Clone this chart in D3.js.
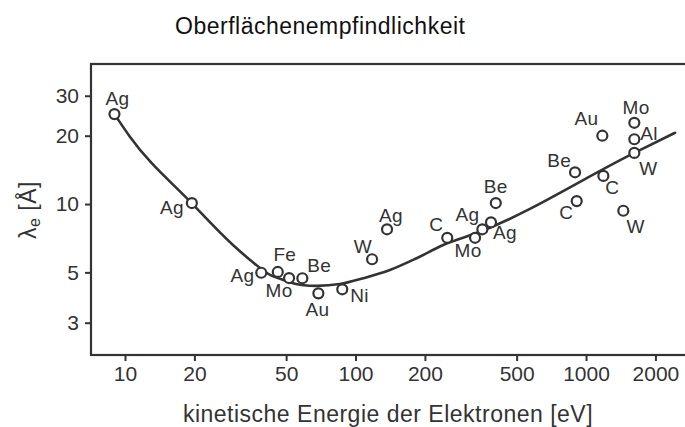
<!DOCTYPE html>
<html>
<head>
<meta charset="utf-8">
<script src="https://cdn.jsdelivr.net/npm/d3@7"></script>
<style>
  body { margin: 0; background: #fff; }
  svg { display: block; }
  text { font-family: "Liberation Sans", Arial, Helvetica, sans-serif; }
</style>
</head>
<body>
<svg id="chart" width="685" height="427"></svg>
<script>
// Measured inelastic mean free path of electrons for several elements
const elements = ["Ag","Ag","Ag","Fe","Mo","Be","Au","Ni","W","Ag","C","Mo","Ag","Ag","Be","C","Be","C","Au","W","Al","Mo","W"];
const energies = [9, 19.5, 39, 46, 51.5, 58.8, 69, 87.6, 118, 137, 250, 330, 355, 387, 406, 911, 896, 1189, 1177, 1620, 1620, 1620, 1451];
const lambdas  = [24.9, 10.1, 4.98, 5.02, 4.72, 4.71, 4.04, 4.21, 5.71, 7.74, 7.10, 7.10, 7.74, 8.31, 10.1, 10.3, 13.8, 13.3, 20.0, 16.8, 19.3, 22.8, 9.34];

// Universal curve through the measurements
const curveEnergies = [9, 10.5, 19.5, 29.4, 34.9, 42.6, 48.6, 58.4, 67.9, 85.6, 108, 141, 184, 240, 347, 1620, 2433];
const curveLambdas  = [24.9, 19.8, 10.07, 6.60, 5.67, 4.87, 4.63, 4.40, 4.36, 4.44, 4.71, 5.12, 5.77, 6.60, 7.55, 16.8, 20.6];

const xTickValues = [10, 20, 50, 100, 200, 500, 1000, 2000];
const yTickValues = [3, 5, 10, 20, 30];

// Where each element label sits relative to its marker: [anchor, dx, dy]
const labelPlacement = [
  ["middle", 3, -9], ["end", -8, 10.5], ["end", -7, 9], ["middle", 7, -11],
  ["middle", -10, 19], ["start", 5, -6.6], ["middle", -1, 23], ["start", 8, 13],
  ["end", 0, -6], ["middle", 4, -7], ["end", -4, -6.7], ["middle", -7, 19],
  ["end", -3, -8], ["start", 2, 17], ["middle", 0, -10], ["end", -3.4, 18],
  ["end", -4, -5], ["start", 2, 17.6], ["end", -4, -10.7], ["start", 5, 22],
  ["start", 6, 0.7], ["middle", 1.7, -8.4], ["start", 3.3, 22.6]
];

const ink = "#333";
const svg = d3.select("#chart");

const plot = { left: 91, top: 64, right: 690, bottom: 355 };

const x = d3.scaleLog().domain([7.12, 2825]).range([plot.left, plot.right]);
const y = d3.scaleLog().domain([2.162, 41.4]).range([plot.bottom, plot.top]);

// Title
svg.append("text")
  .attr("x", 175).attr("y", 34)
  .attr("font-size", 23).attr("letter-spacing", 0.5)
  .attr("fill", "#111")
  .text("Oberflächenempfindlichkeit");

// Frame
svg.append("rect")
  .attr("x", plot.left).attr("y", plot.top)
  .attr("width", plot.right - plot.left).attr("height", plot.bottom - plot.top)
  .attr("fill", "none").attr("stroke", ink).attr("stroke-width", 2.2);

// X axis
const xAxis = d3.axisBottom(x).tickValues(xTickValues).tickFormat(d3.format("d"))
  .tickSize(6).tickPadding(5);
const gx = svg.append("g").attr("transform", `translate(0,${plot.bottom})`).call(xAxis);
gx.select(".domain").remove();
gx.selectAll(".tick line").attr("stroke", ink).attr("stroke-width", 2);
gx.selectAll(".tick text").attr("fill", ink).attr("font-size", 21)
  .attr("font-family", "Liberation Sans, Arial, sans-serif");

// Y axis
const yAxis = d3.axisLeft(y).tickValues(yTickValues).tickFormat(d3.format("d"))
  .tickSize(6).tickPadding(6);
const gy = svg.append("g").attr("transform", `translate(${plot.left},0)`).call(yAxis);
gy.select(".domain").remove();
gy.selectAll(".tick line").attr("stroke", ink).attr("stroke-width", 2);
gy.selectAll(".tick text").attr("fill", ink).attr("font-size", 21)
  .attr("font-family", "Liberation Sans, Arial, sans-serif");

// Axis titles
svg.append("text")
  .attr("x", 388).attr("y", 422)
  .attr("text-anchor", "middle")
  .attr("font-size", 23).attr("letter-spacing", 0.5)
  .attr("fill", ink)
  .text("kinetische Energie der Elektronen [eV]");

const ylab = svg.append("text")
  .attr("transform", "translate(36,210) rotate(-90)")
  .attr("text-anchor", "middle")
  .attr("font-size", 23).attr("letter-spacing", 0.5)
  .attr("fill", ink);
ylab.append("tspan").text("λ");
ylab.append("tspan").attr("font-size", 16).attr("dy", 4).text("e");
ylab.append("tspan").attr("dy", -4).text(" [Å]");

// Curve
const curveData = curveEnergies.map((e, i) => [e, curveLambdas[i]]);
const line = d3.line()
  .x(d => x(d[0])).y(d => y(d[1]))
  .curve(d3.curveMonotoneX);
svg.append("path")
  .datum(curveData)
  .attr("d", line)
  .attr("fill", "none").attr("stroke", ink).attr("stroke-width", 2.6)
  .attr("stroke-linecap", "round");

// Measurement points
const points = elements.map((el, i) => ({ el, e: energies[i], l: lambdas[i], place: labelPlacement[i] }));

svg.append("g").selectAll("circle")
  .data(points).join("circle")
  .attr("cx", d => x(d.e)).attr("cy", d => y(d.l))
  .attr("r", 5)
  .attr("fill", "#fff").attr("stroke", ink).attr("stroke-width", 2.2);

svg.append("g").selectAll("text")
  .data(points).join("text")
  .attr("x", d => x(d.e) + d.place[1])
  .attr("y", d => y(d.l) + d.place[2])
  .attr("text-anchor", d => d.place[0])
  .attr("font-size", 19).attr("letter-spacing", 0.3)
  .attr("fill", ink)
  .text(d => d.el);
</script>
</body>
</html>
